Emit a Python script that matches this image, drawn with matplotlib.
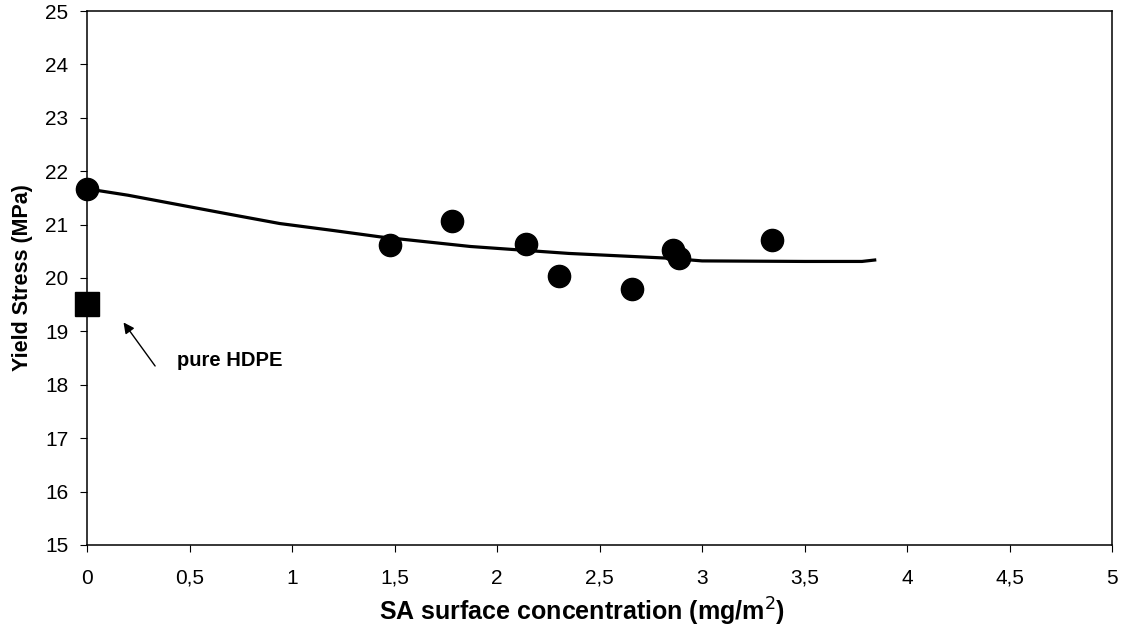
import matplotlib
matplotlib.use("Agg")
import matplotlib.pyplot as plt
import numpy as np

# measured points (circles)
conc = [0.0, 1.48, 1.78, 2.14, 2.30, 2.66, 2.86, 2.89, 3.34]
stress = [21.67, 20.62, 21.07, 20.64, 20.04, 19.80, 20.53, 20.38, 20.72]

# pure HDPE reference (square)
hdpe_x = [0.0]
hdpe_y = [19.52]

# trend line
trend_x = [0.0, 0.2, 0.45, 0.7, 0.94, 1.2, 1.43, 1.87, 2.35, 2.84, 3.0, 3.5, 3.78, 3.85]
trend_y = [21.67, 21.55, 21.37, 21.19, 21.02, 20.89, 20.77, 20.59, 20.46, 20.37, 20.32, 20.31, 20.31, 20.34]

xticks = [0, 0.5, 1, 1.5, 2, 2.5, 3, 3.5, 4, 4.5, 5]
xlabels = ["0", "0,5", "1", "1,5", "2", "2,5", "3", "3,5", "4", "4,5", "5"]
yticks = list(range(15, 26))

plt.rcParams['font.family'] = ['Liberation Sans', 'DejaVu Sans']

fig = plt.figure(figsize=(11.26, 6.36), dpi=100)
ax = fig.add_axes([0.0773, 0.1431, 0.9103, 0.8396])

ax.plot(trend_x, trend_y, color='black', lw=2.3, solid_capstyle='butt')
ax.plot(conc, stress, 'o', color='black', ms=16, clip_on=False, zorder=5)
ax.plot(hdpe_x, hdpe_y, 's', color='black', ms=17, clip_on=False, zorder=5)

ax.set_xlim(0, 5)
ax.set_ylim(15, 25)
ax.set_xticks(xticks)
ax.set_xticklabels(xlabels)
ax.set_yticks(yticks)
ax.tick_params(axis='x', direction='out', length=5, width=0.8, labelsize=15, pad=12)
ax.tick_params(axis='y', direction='out', length=5, width=0.8, labelsize=15, pad=8.5)
for s in ax.spines.values():
    s.set_linewidth(1.1)

ax.set_xlabel("SA surface concentration (mg/m$^{2}$)", fontsize=18, fontweight='bold',
              labelpad=6, x=0.483)
ax.set_ylabel("Yield Stress (MPa)", fontsize=15.5, fontweight='bold', labelpad=9)

ax.annotate("", xy=(0.17, 19.21), xytext=(0.34, 18.31),
            arrowprops=dict(arrowstyle='-|>', color='black', lw=1.0, mutation_scale=16))
ax.text(0.44, 18.45, "pure HDPE", fontsize=14.5, fontweight='bold', va='center', ha='left')

fig.savefig("out.png", dpi=100)
plt.close(fig)
